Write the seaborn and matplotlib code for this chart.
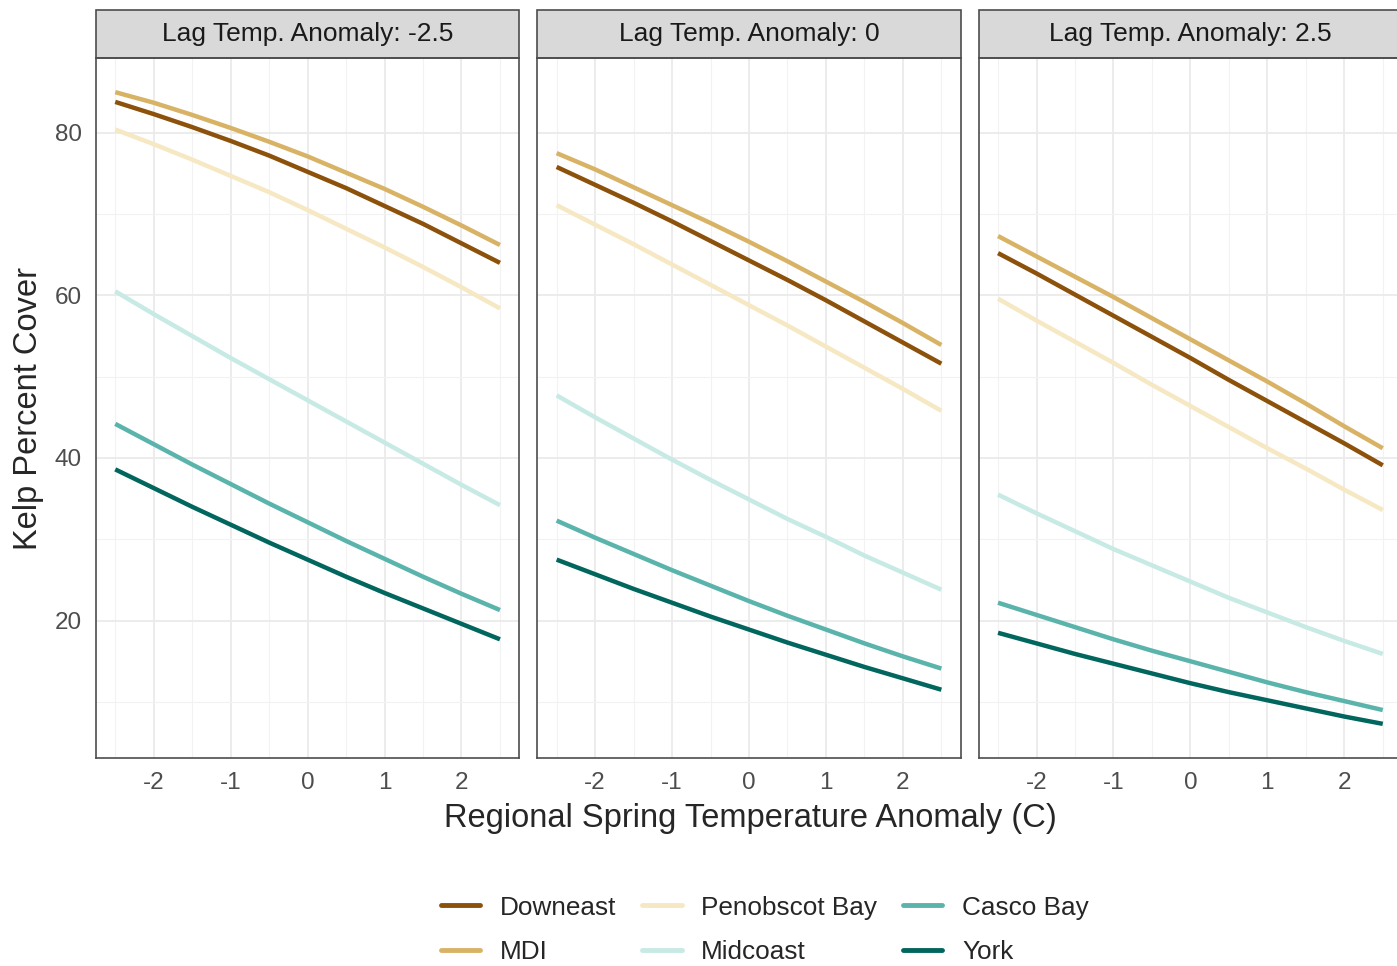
import matplotlib
matplotlib.use('Agg')
import matplotlib.pyplot as plt
from matplotlib.lines import Line2D
from matplotlib.patches import Rectangle
from matplotlib.ticker import MultipleLocator
import pandas as pd
import seaborn as sns

# values, at regional anomaly -2.5 .. 2.5 in steps of 0.5
temp_anomaly = [-2.5, -2.0, -1.5, -1.0, -0.5, 0.0, 0.5, 1.0, 1.5, 2.0, 2.5]
regions = ['Downeast', 'MDI', 'Penobscot Bay', 'Midcoast', 'Casco Bay', 'York']
region_colors = ['#8c510a', '#d8b365', '#f6e8c3', '#c7eae5', '#5ab4ac', '#01665e']
lag_labels = ['Lag Temp. Anomaly: -2.5', 'Lag Temp. Anomaly: 0', 'Lag Temp. Anomaly: 2.5']

cover_lag_minus = {
    'Downeast': [83.8, 82.3, 80.7, 79.0, 77.2, 75.2, 73.2, 71.0, 68.8, 66.4, 64.0],
    'MDI': [85.0, 83.7, 82.2, 80.6, 78.9, 77.1, 75.1, 73.1, 70.9, 68.6, 66.2],
    'Penobscot Bay': [80.4, 78.6, 76.7, 74.7, 72.7, 70.5, 68.2, 65.9, 63.5, 61.0, 58.4],
    'Midcoast': [60.5, 57.7, 55.0, 52.3, 49.7, 47.1, 44.5, 41.9, 39.3, 36.7, 34.2],
    'Casco Bay': [44.2, 41.7, 39.2, 36.8, 34.4, 32.1, 29.8, 27.6, 25.4, 23.3, 21.3],
    'York': [38.6, 36.3, 34.0, 31.8, 29.6, 27.5, 25.4, 23.4, 21.5, 19.6, 17.7],
}
cover_lag_zero = {
    'Downeast': [75.8, 73.6, 71.4, 69.1, 66.7, 64.3, 61.9, 59.4, 56.8, 54.2, 51.6],
    'MDI': [77.5, 75.5, 73.3, 71.1, 68.9, 66.6, 64.2, 61.7, 59.2, 56.6, 53.9],
    'Penobscot Bay': [71.1, 68.7, 66.3, 63.8, 61.3, 58.8, 56.3, 53.7, 51.1, 48.5, 45.8],
    'Midcoast': [47.7, 45.0, 42.4, 39.8, 37.3, 34.9, 32.5, 30.3, 28.0, 25.9, 23.8],
    'Casco Bay': [32.3, 30.2, 28.2, 26.2, 24.3, 22.4, 20.6, 18.9, 17.2, 15.6, 14.1],
    'York': [27.5, 25.7, 23.9, 22.2, 20.5, 18.9, 17.3, 15.8, 14.3, 12.9, 11.5],
}
cover_lag_plus = {
    'Downeast': [65.2, 62.7, 60.1, 57.5, 54.9, 52.3, 49.6, 47.0, 44.4, 41.8, 39.1],
    'MDI': [67.3, 64.8, 62.3, 59.8, 57.2, 54.6, 52.0, 49.4, 46.7, 43.9, 41.2],
    'Penobscot Bay': [59.6, 56.9, 54.3, 51.7, 49.0, 46.4, 43.8, 41.2, 38.7, 36.1, 33.6],
    'Midcoast': [35.5, 33.2, 31.0, 28.8, 26.8, 24.8, 22.8, 21.0, 19.2, 17.5, 15.9],
    'Casco Bay': [22.2, 20.7, 19.2, 17.7, 16.3, 15.0, 13.7, 12.4, 11.2, 10.1, 9.0],
    'York': [18.5, 17.2, 15.9, 14.7, 13.5, 12.3, 11.2, 10.2, 9.2, 8.2, 7.3],
}
panels = [cover_lag_minus, cover_lag_zero, cover_lag_plus]


def panel_frame(cover):
    rows = []
    for region in regions:
        for x, y in zip(temp_anomaly, cover[region]):
            rows.append({'temp': x, 'cover': y, 'region': region})
    return pd.DataFrame(rows)


sns.set_style('white')
plt.rcParams['font.family'] = ['Liberation Sans', 'DejaVu Sans']
plt.rcParams['axes.unicode_minus'] = False

W, H = 1397, 966
fig, axes = plt.subplots(1, 3, figsize=(W / 100, H / 100), dpi=100, sharey=True)
fig.subplots_adjust(left=96 / W, right=1402 / W, bottom=1 - 758 / H, top=1 - 58 / H, wspace=0.043)

palette = dict(zip(regions, region_colors))
strip_h = 48 / 700

for ax, cover, label in zip(axes, panels, lag_labels):
    df = panel_frame(cover)
    sns.lineplot(data=df, x='temp', y='cover', hue='region', palette=palette,
                 linewidth=3.2, legend=False, ax=ax, solid_capstyle='butt')
    ax.set_xlim(-2.75, 2.75)
    ax.set_ylim(3.1, 89.2)
    ax.xaxis.set_major_locator(MultipleLocator(1))
    ax.xaxis.set_minor_locator(MultipleLocator(0.5))
    ax.yaxis.set_major_locator(MultipleLocator(20))
    ax.yaxis.set_minor_locator(MultipleLocator(10))
    ax.grid(which='major', color='#ebebeb', linewidth=1.3)
    ax.grid(which='minor', color='#f2f2f2', linewidth=0.8)
    ax.set_axisbelow(True)
    for sp in ax.spines.values():
        sp.set_color('#4d4d4d')
        sp.set_linewidth(1.2)
    ax.tick_params(which='major', length=5, width=1.2, color='#333333',
                   labelsize=17.5, labelcolor='#4d4d4d', pad=5)
    ax.tick_params(which='minor', length=0)
    ax.set_xlabel('')
    ax.set_ylabel('')
    # facet strip
    ax.add_patch(Rectangle((0, 1), 1, strip_h, transform=ax.transAxes, clip_on=False,
                           facecolor='#d9d9d9', edgecolor='#4d4d4d', linewidth=1.2))
    ax.text(0.5, 1 + strip_h / 2, label, transform=ax.transAxes, ha='center', va='center',
            fontsize=19, color='#1a1a1a')

for ax in axes[1:]:
    ax.tick_params(axis='y', which='both', length=0, labelleft=False)

axes[0].set_ylabel('Kelp Percent Cover', fontsize=23.5, labelpad=8)
fig.text(750 / W, 1 - 818 / H, 'Regional Spring Temperature Anomaly (C)',
         ha='center', va='center', fontsize=23.5)

handles = [Line2D([0], [0], color=c, linewidth=3.5) for c in region_colors]
fig.legend(handles, regions, loc='center', bbox_to_anchor=(765 / W, 1 - 930 / H), ncol=3,
           frameon=False, fontsize=18.8, handlelength=1.5, columnspacing=1.0,
           labelspacing=0.8, handletextpad=0.75)

fig.savefig('out.png', dpi=100)
